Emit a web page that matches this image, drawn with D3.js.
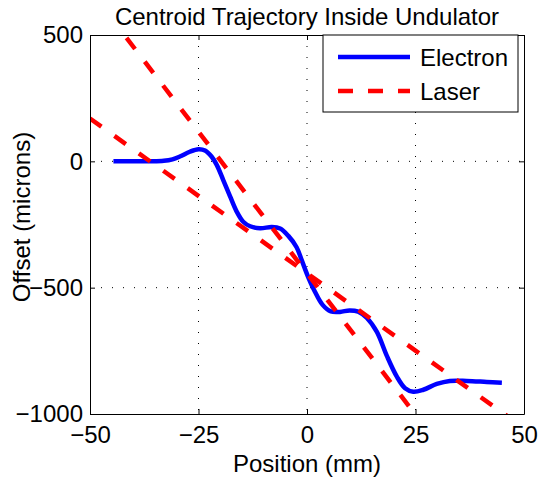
<!DOCTYPE html>
<html>
<head>
<meta charset="utf-8">
<script src="https://cdn.jsdelivr.net/npm/d3@7"></script>
<style>
  body { margin: 0; background: #fff; }
  text { font-family: "Liberation Sans", Arial, Helvetica, sans-serif; fill: #000; }
</style>
</head>
<body>
<svg id="chart" width="539" height="482"></svg>
<script>
// Axis ticks
const xTicks = [-50, -25, 0, 25, 50];
const yTicks = [-1000, -500, 0, 500];

// Electron centroid trajectory (position in mm, offset in microns)
const electronX = [-44.6, -40, -36, -33, -31, -29.3, -27, -25, -23.5, -22, -20.8, -19.3, -17.7, -16.2,
  -14.7, -13.1, -10.8, -8.1, -6.2, -4.3, -2.4, -1.2, 0.2, 1.8, 3.6, 5.5, 7.6, 9.8, 11.8, 13.8,
  16.1, 18.4, 20.7, 22.6, 24.5, 26.8, 29.9, 32.9, 36.8, 41.4, 44.9];
const electronY = [0, 0, 0, 2, 8, 19, 38, 48, 43, 19, -14, -74, -140, -199,
  -239, -257, -265, -260, -266, -295, -340, -392, -455, -515, -568, -594, -596, -590, -595, -620,
  -675, -770, -852, -898, -912, -904, -881, -869, -869, -873, -876];

// Laser axes (two alignments)
const laserX = [-50, 50];
const laserSteepY = [677, -1563];
const laserShallowY = [169.5, -1055.5];

const svg = d3.select("#chart");
const margin = { left: 90, right: 524, top: 35, bottom: 414 };
const fontSize = 24;
const tickFmt = d3.format("d");

const x = d3.scaleLinear().domain([-50, 50]).range([margin.left, margin.right]);
const y = d3.scaleLinear().domain([-1000, 500]).range([margin.bottom, margin.top]);

// Clip region for the plotted data
svg.append("defs").append("clipPath").attr("id", "plotClip")
  .append("rect")
  .attr("x", margin.left).attr("y", margin.top)
  .attr("width", margin.right - margin.left).attr("height", margin.bottom - margin.top);

// Background
svg.append("rect")
  .attr("x", margin.left).attr("y", margin.top)
  .attr("width", margin.right - margin.left).attr("height", margin.bottom - margin.top)
  .attr("fill", "#fff");

// Dotted grid
const grid = svg.append("g").attr("stroke", "#000").attr("stroke-width", 1)
  .attr("stroke-dasharray", "1,10").attr("fill", "none");
xTicks.slice(1, -1).forEach(t => {
  grid.append("line").attr("x1", x(t)).attr("x2", x(t))
    .attr("y1", margin.top).attr("y2", margin.bottom);
});
yTicks.slice(1, -1).forEach(t => {
  grid.append("line").attr("y1", y(t)).attr("y2", y(t))
    .attr("x1", margin.left).attr("x2", margin.right);
});

const plot = svg.append("g").attr("clip-path", "url(#plotClip)");

// Electron trajectory
const electron = electronX.map((v, i) => [v, electronY[i]]);
plot.append("path")
  .datum(electron)
  .attr("fill", "none")
  .attr("stroke", "#0000ff")
  .attr("stroke-width", 4.5)
  .attr("stroke-linejoin", "round")
  .attr("d", d3.line().x(d => x(d[0])).y(d => y(d[1])).curve(d3.curveCatmullRom.alpha(0.5)));

// Laser lines
const laserLine = d3.line().x(d => x(d[0])).y(d => y(d[1]));
[laserSteepY, laserShallowY].forEach(ys => {
  plot.append("path")
    .datum(laserX.map((v, i) => [v, ys[i]]))
    .attr("fill", "none")
    .attr("stroke", "#ff0000")
    .attr("stroke-width", 4.5)
    .attr("stroke-dasharray", "14,16")
    .attr("d", laserLine);
});

// Axes with inward ticks on all four sides
function styleAxis(g) {
  g.attr("font-family", null).attr("font-size", fontSize);
  g.selectAll("path, line").attr("stroke", "#000").attr("stroke-width", 1);
}
svg.append("g").attr("transform", `translate(0,${margin.bottom})`)
  .call(d3.axisBottom(x).tickValues(xTicks).tickFormat(tickFmt)
    .tickSizeInner(-5).tickSizeOuter(0).tickPadding(12))
  .call(styleAxis);
svg.append("g").attr("transform", `translate(0,${margin.top})`)
  .call(d3.axisTop(x).tickValues(xTicks).tickSizeInner(-5).tickSizeOuter(0).tickFormat(""))
  .call(styleAxis);
svg.append("g").attr("transform", `translate(${margin.left},0)`)
  .call(d3.axisLeft(y).tickValues(yTicks).tickFormat(tickFmt)
    .tickSizeInner(-5).tickSizeOuter(0).tickPadding(7))
  .call(styleAxis);
svg.append("g").attr("transform", `translate(${margin.right},0)`)
  .call(d3.axisRight(y).tickValues(yTicks).tickSizeInner(-5).tickSizeOuter(0).tickFormat(""))
  .call(styleAxis);

// Title and axis labels
svg.append("text")
  .attr("x", (margin.left + margin.right) / 2).attr("y", 25)
  .attr("text-anchor", "middle").attr("font-size", fontSize)
  .text("Centroid Trajectory Inside Undulator");
svg.append("text")
  .attr("x", (margin.left + margin.right) / 2).attr("y", 472)
  .attr("text-anchor", "middle").attr("font-size", fontSize)
  .text("Position (mm)");
svg.append("text")
  .attr("transform", "translate(30,217) rotate(-90)")
  .attr("text-anchor", "middle").attr("font-size", fontSize)
  .text("Offset (microns)");

// Legend
const legend = svg.append("g");
legend.append("rect")
  .attr("x", 323).attr("y", margin.top).attr("width", 195).attr("height", 77)
  .attr("fill", "#fff").attr("stroke", "#000").attr("stroke-width", 1);
const entries = [
  { label: "Electron", color: "#0000ff", dash: null, cy: 57 },
  { label: "Laser", color: "#ff0000", dash: "15,15", cy: 91 }
];
entries.forEach(e => {
  legend.append("line")
    .attr("x1", 338).attr("x2", 410).attr("y1", e.cy).attr("y2", e.cy)
    .attr("stroke", e.color).attr("stroke-width", 4.5)
    .attr("stroke-dasharray", e.dash);
  legend.append("text")
    .attr("x", 420).attr("y", e.cy + 8.5).attr("font-size", fontSize)
    .text(e.label);
});
</script>
</body>
</html>
